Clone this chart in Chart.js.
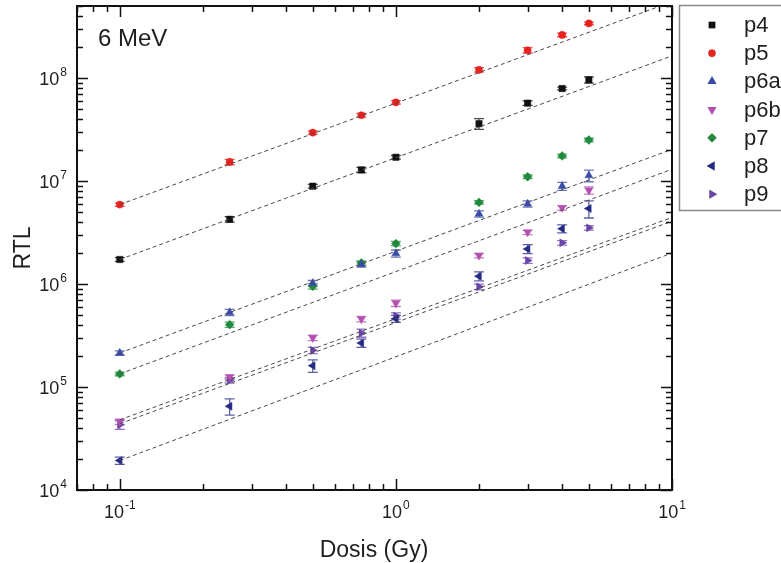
<!DOCTYPE html>
<html>
<head>
<meta charset="utf-8">
<title>RTL vs Dosis</title>
<style>
  html, body { margin: 0; padding: 0; background: #fff; }
  #rtl { display: block; }
</style>
</head>
<body>
<canvas id="rtl" width="781" height="563"></canvas>
<script src="https://cdn.jsdelivr.net/npm/chart.js@4.4.1/dist/chart.umd.min.js"></script>
<script>
// dose points (Gy), shared by all samples
const doses = [0.1, 0.25, 0.5, 0.75, 1, 2, 3, 4, 5];

// RTL per sample
const p4  = [1.73e6, 4.25e6, 8.9e6, 1.28e7, 1.70e7, 3.6e7, 5.7e7, 7.9e7, 9.6e7];
const p5  = [5.9e6, 1.53e7, 2.95e7, 4.35e7, 5.8e7, 1.2e8, 1.86e8, 2.62e8, 3.39e8];
const p6a = [2.14e5, 5.3e5, 1.02e6, 1.55e6, 1.98e6, 4.8e6, 6.0e6, 8.9e6, 1.13e7];
const p6b = [4.6e4, 1.25e5, 3.0e5, 4.57e5, 6.5e5, 1.89e6, 3.18e6, 5.5e6, 8.1e6];
const p7  = [1.34e5, 4.03e5, 9.5e5, 1.6e6, 2.47e6, 6.2e6, 1.10e7, 1.75e7, 2.5e7];
const p8  = [1.93e4, 6.5e4, 1.61e5, 2.67e5, 4.6e5, 1.19e6, 2.19e6, 3.44e6, 5.4e6];
const p9  = [4.3e4, 1.16e5, 2.27e5, 3.34e5, 4.9e5, 9.4e5, 1.69e6, 2.51e6, 3.51e6];

// relative uncertainty (%)
const p4Err  = [4, 6, 4, 6, 4, 12, 5, 3, 7];
const p5Err  = [4, 6, 4, 4, 4, 5, 6, 4, 3];
const p6aErr = [5, 7, 6, 6, 8, 7, 7, 9, 13];
const p6bErr = [6, 5, 6, 6, 7, 5, 5, 5, 8];
const p7Err  = [4, 6, 6, 5, 5, 4, 4, 4, 4];
const p8Err  = [8, 18, 14, 9, 8, 10, 10, 9, 19];
const p9Err  = [10, 6, 7, 9, 7, 6, 6, 5, 5];

// linear fits, evaluated at the ends of the dose range
const fitX   = [0.1, 10];
const fitP5  = [5.9e6, 5.5e8];
const fitP4  = [1.73e6, 1.64e8];
const fitP6a = [2.14e5, 2.03e7];
const fitP7  = [1.34e5, 1.30e7];
const fitP6b = [4.8e4, 4.43e6];
const fitP9  = [4.4e4, 4.07e6];
const fitP8  = [1.93e4, 2.0e6];

const xTicks = [0.1, 1, 10];
const xTickExp = ['-1', '0', '1'];
const yTicks = [1e4, 1e5, 1e6, 1e7, 1e8];
const yTickExp = ['4', '5', '6', '7', '8'];

const FONT = '"Liberation Sans", Arial, Helvetica, sans-serif';
const INK = '#1e1e1e';

const series = [
    { label: 'p4',  y: p4,  err: p4Err,  color: '#111111', style: 'rect',     rot: 0,   r: 4.5 },
    { label: 'p5',  y: p5,  err: p5Err,  color: '#e8221e', style: 'circle',   rot: 0,   r: 3.6 },
    { label: 'p6a', y: p6a, err: p6aErr, color: '#3b4ca6', style: 'triangle', rot: 0,   r: 4.6 },
    { label: 'p6b', y: p6b, err: p6bErr, color: '#b54fb2', style: 'triangle', rot: 180, r: 4.6 },
    { label: 'p7',  y: p7,  err: p7Err,  color: '#1f8a3c', style: 'rectRot',  rot: 0,   r: 4.4 },
    { label: 'p8',  y: p8,  err: p8Err,  color: '#252a85', style: 'triangle', rot: -90, r: 4.6 },
    { label: 'p9',  y: p9,  err: p9Err,  color: '#6a45a8', style: 'triangle', rot: 90,  r: 4.6 }
];
const fits = [fitP5, fitP4, fitP6a, fitP7, fitP6b, fitP9, fitP8];

function withAlpha(hex, a) {
    const n = parseInt(hex.slice(1), 16);
    return 'rgba(' + (n >> 16) + ',' + ((n >> 8) & 255) + ',' + (n & 255) + ',' + a + ')';
}

const datasets = [];
fits.forEach(f => {
    datasets.push({
        type: 'line',
        data: fitX.map((x, i) => ({ x: x, y: f[i] })),
        borderColor: '#4a4a4a',
        borderWidth: 1,
        borderDash: [4, 3],
        pointRadius: 0,
        fill: false,
        isFit: true
    });
});
series.forEach(s => {
    datasets.push({
        label: s.label,
        data: doses.map((x, i) => ({ x: x, y: s.y[i] })),
        errPct: s.err,
        pointStyle: s.style,
        rotation: s.rot,
        pointRadius: s.r,
        pointHoverRadius: s.r,
        backgroundColor: s.color,
        borderColor: s.color,
        borderWidth: 0.5,
        showLine: false
    });
});

// error bars under the markers
const errorBars = {
    id: 'errorBars',
    beforeDatasetsDraw(chart) {
        const ctx = chart.ctx;
        const xs = chart.scales.x, ys = chart.scales.y;
        ctx.save();
        chart.data.datasets.forEach(ds => {
            if (!ds.errPct) return;
            ctx.strokeStyle = withAlpha(ds.borderColor, 0.75);
            ctx.lineWidth = 1.3;
            ds.data.forEach((p, i) => {
                const e = ds.errPct[i] / 100;
                const px = xs.getPixelForValue(p.x);
                const top = ys.getPixelForValue(p.y * (1 + e));
                const bot = ys.getPixelForValue(p.y * (1 - e));
                ctx.beginPath();
                ctx.moveTo(px, top); ctx.lineTo(px, bot);
                ctx.moveTo(px - 5, top); ctx.lineTo(px + 5, top);
                ctx.moveTo(px - 5, bot); ctx.lineTo(px + 5, bot);
                ctx.stroke();
            });
        });
        ctx.restore();
    }
};

function minorValues(min, max) {
    const out = [];
    for (let e = Math.floor(Math.log10(min)); e <= Math.ceil(Math.log10(max)); e++) {
        for (let d = 1; d <= 9; d++) {
            const v = d * Math.pow(10, e);
            if (v >= min * 0.999 && v <= max * 1.001) out.push({ v: v, major: d === 1 });
        }
    }
    return out;
}

function powerLabel(ctx, exp, x, y, align) {
    ctx.font = '18px ' + FONT;
    const wBase = ctx.measureText('10').width;
    ctx.font = '12px ' + FONT;
    const wExp = ctx.measureText(exp).width;
    const total = wBase + wExp + 1;
    let left = align === 'right' ? x - total : x - total / 2;
    ctx.textBaseline = 'alphabetic';
    ctx.textAlign = 'left';
    ctx.font = '18px ' + FONT;
    ctx.fillText('10', left, y);
    ctx.font = '12px ' + FONT;
    ctx.fillText(exp, left + wBase + 1, y - 9);
}

// frame with inward ticks, tick labels, titles and the legend box
const frame = {
    id: 'frame',
    afterDraw(chart) {
        const ctx = chart.ctx;
        const a = chart.chartArea;
        const xs = chart.scales.x, ys = chart.scales.y;
        ctx.save();
        ctx.strokeStyle = '#111';
        ctx.lineWidth = 2;
        ctx.strokeRect(a.left, a.top, a.right - a.left, a.bottom - a.top);

        ctx.lineWidth = 1.5;
        ctx.beginPath();
        minorValues(xs.min, xs.max).forEach(t => {
            const px = Math.round(xs.getPixelForValue(t.v)) + 0.5;
            const len = t.major ? 11 : 6;
            ctx.moveTo(px, a.bottom); ctx.lineTo(px, a.bottom - len);
            ctx.moveTo(px, a.top); ctx.lineTo(px, a.top + len);
        });
        minorValues(ys.min, ys.max).forEach(t => {
            const py = Math.round(ys.getPixelForValue(t.v)) + 0.5;
            const len = t.major ? 11 : 6;
            ctx.moveTo(a.left, py); ctx.lineTo(a.left + len, py);
            ctx.moveTo(a.right, py); ctx.lineTo(a.right - len, py);
        });
        ctx.stroke();

        ctx.fillStyle = INK;
        xTicks.forEach((v, i) => powerLabel(ctx, xTickExp[i], xs.getPixelForValue(v), a.bottom + 28, 'center'));
        yTicks.forEach((v, i) => powerLabel(ctx, yTickExp[i], a.left - 10, ys.getPixelForValue(v) + 7, 'right'));

        // axis titles
        ctx.font = '23px ' + FONT;
        ctx.textAlign = 'center';
        ctx.textBaseline = 'alphabetic';
        ctx.fillText('Dosis (Gy)', (a.left + a.right) / 2 - 0.5, 557);
        ctx.save();
        ctx.translate(30, 248);
        ctx.rotate(-Math.PI / 2);
        ctx.fillText('RTL', 0, 0);
        ctx.restore();

        ctx.textAlign = 'left';
        ctx.font = '24px ' + FONT;
        ctx.fillText('6 MeV', 98, 46);

        // legend
        ctx.strokeStyle = '#8a8a8a';
        ctx.lineWidth = 1.5;
        ctx.strokeRect(679.5, 5.5, 120, 205);
        series.forEach((s, i) => {
            const ly = 25 + i * 28.2;
            Chart.helpers.drawPoint(ctx, {
                pointStyle: s.style, rotation: s.rot, radius: s.r * 0.8, borderWidth: 0.5
            }, 712, ly);
            ctx.fillStyle = s.color;
            ctx.strokeStyle = s.color;
            Chart.helpers.drawPoint(ctx, {
                pointStyle: s.style, rotation: s.rot, radius: s.r * 0.8, borderWidth: 0.5
            }, 712, ly);
            ctx.fillStyle = INK;
            ctx.font = '22px ' + FONT;
            ctx.textBaseline = 'middle';
            ctx.fillText(s.label, 744, ly + 1);
            ctx.strokeStyle = '#8a8a8a';
        });
        ctx.restore();
    }
};

new Chart(document.getElementById('rtl'), {
    type: 'scatter',
    data: { datasets: datasets },
    options: {
        responsive: false,
        animation: false,
        devicePixelRatio: 1,
        layout: { padding: { left: 77, right: 109, top: 6, bottom: 73 } },
        plugins: { legend: { display: false }, tooltip: { enabled: false } },
        scales: {
            x: { type: 'logarithmic', min: 0.07, max: 10, display: false },
            y: { type: 'logarithmic', min: 1e4, max: 5e8, display: false }
        }
    },
    plugins: [errorBars, frame]
});
</script>
</body>
</html>
